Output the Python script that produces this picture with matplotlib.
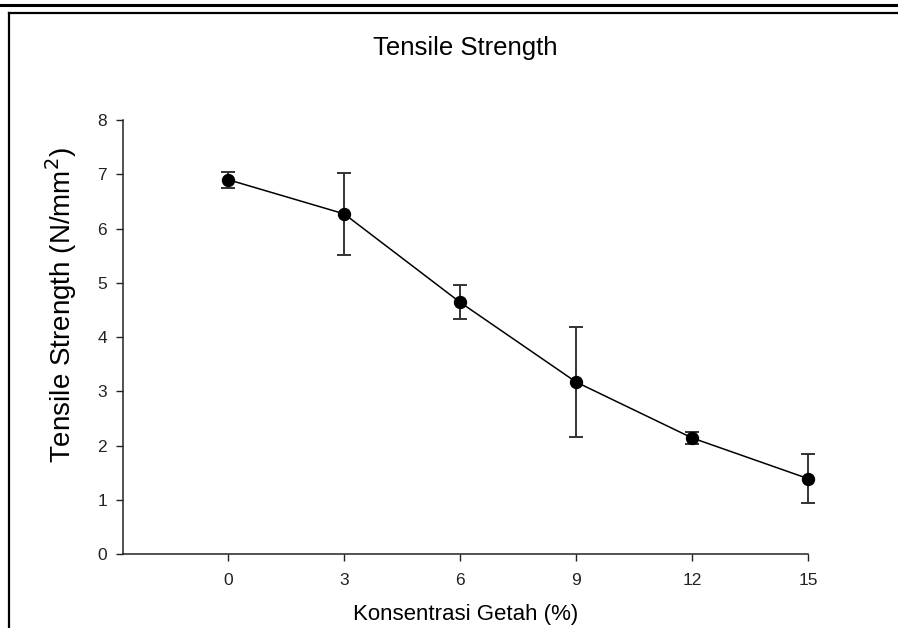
import matplotlib.pyplot as plt
from matplotlib.lines import Line2D

plt.rcParams['font.family'] = ['Liberation Sans', 'DejaVu Sans']

# data
konsentrasi = [0, 3, 6, 9, 12, 15]
tensile = [6.90, 6.27, 4.64, 3.17, 2.14, 1.39]
error = [0.15, 0.75, 0.31, 1.02, 0.11, 0.45]

W, H = 898, 628
fig = plt.figure(figsize=(W / 100, H / 100), dpi=100)

# axes box in pixel terms: x 123..808, y 120..554
ax = fig.add_axes([123 / W, 1 - 554 / H, (808 - 123) / W, (554 - 120) / H])

eb = ax.errorbar(konsentrasi, tensile, yerr=error, color='black', lw=1.1,
                 marker='o', ms=8.6, mfc='black', mec='black',
                 ecolor='#333333', elinewidth=1.4, capsize=4.7, capthick=1.4)
# last point sits on the axis end, don't clip it
for art in [eb.lines[0]] + list(eb.lines[1]) + list(eb.lines[2]):
    art.set_clip_on(False)

ax.set_xlim(-2.72, 15)
ax.set_ylim(0, 8)
ax.set_xticks(konsentrasi)
ax.set_yticks(range(0, 9))
ax.tick_params(direction='out', length=5, width=1, labelsize=12.5, colors='#222222')
ax.tick_params(axis='x', pad=9)
ax.tick_params(axis='y', pad=6.5)
for side in ['top', 'right']:
    ax.spines[side].set_visible(False)
for side in ['left', 'bottom']:
    ax.spines[side].set_linewidth(1.1)
    ax.spines[side].set_color('#222222')

ax.set_xlabel('Konsentrasi Getah (%)', fontsize=16, labelpad=11)
ax.set_ylabel('Tensile Strength (N/mm$^2$)', fontsize=20)
ax.yaxis.set_label_coords(-0.064, 0.574)
ax.set_title('Tensile Strength', fontsize=18.5, pad=47)

# page frame lines around the figure
def px_line(x0, y0, x1, y1, lw):
    fig.add_artist(Line2D([x0 / W, x1 / W], [1 - y0 / H, 1 - y1 / H],
                          transform=fig.transFigure, color='black', lw=lw))

px_line(0, 4.5, W, 4.5, 2.2)
px_line(9, 13, W, 13, 1.6)
px_line(9, 13, 9, H, 1.6)

fig.savefig('out.png', dpi=100)
